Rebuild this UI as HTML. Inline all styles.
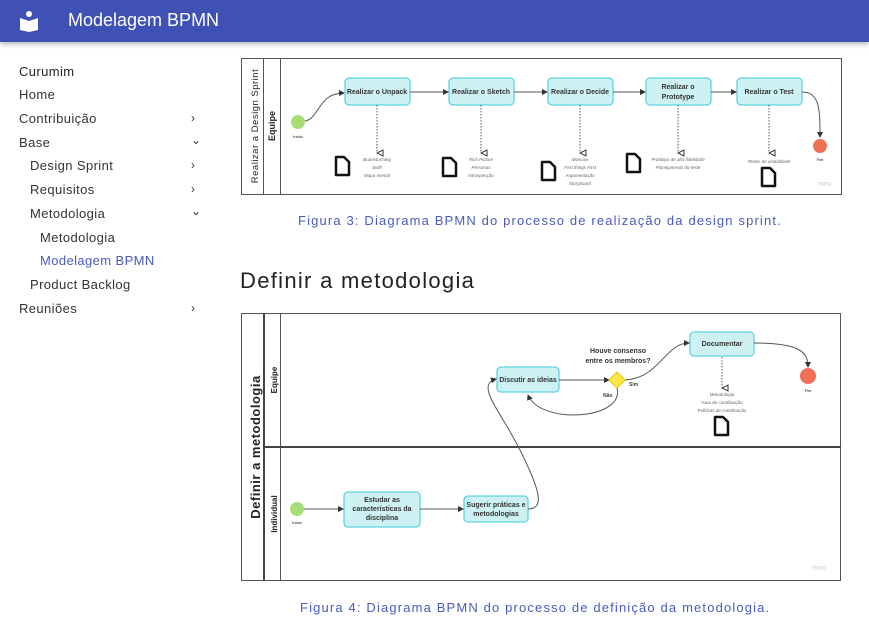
<!DOCTYPE html>
<html><head><meta charset="utf-8"><style>
*{margin:0;padding:0;box-sizing:border-box}
body{width:869px;height:625px;overflow:hidden;background:#fff;font-family:"Liberation Sans",sans-serif;position:relative}
.hdr{position:absolute;left:0;top:0;width:869px;height:42px;background:#3f51b5;box-shadow:0 2px 5px rgba(0,0,0,.3)}
.hdr span{position:absolute;left:68px;top:10px;color:#fff;font-size:18px}
.nav{position:absolute;font-size:13px;color:#333;letter-spacing:0.4px}
.chev{position:absolute;left:191px;font-size:12px;color:#333}
.cap{position:absolute;font-size:13px;color:#4a5bbd;white-space:nowrap;letter-spacing:1.15px}
svg{position:absolute;left:0;top:0}
</style></head><body>
<div class="hdr"><span>Modelagem BPMN</span>
<svg width="40" height="42" style="left:18px;top:10px"><circle cx="11" cy="4" r="3" fill="#fff"/><path d="M2 8 L11 11 L20 8 L20 20 L11 22 L2 20Z" fill="#fff"/></svg></div>
<div class="nav" style="left:19px;top:64px;color:#222">Curumim</div>
<div class="nav" style="left:19px;top:87px">Home</div>
<div class="nav" style="left:19px;top:111px">Contribuição</div><div class="chev" style="top:111px">›</div>
<div class="nav" style="left:19px;top:135px">Base</div><div class="chev" style="top:133px">⌄</div>
<div class="nav" style="left:30px;top:158px">Design Sprint</div><div class="chev" style="top:158px">›</div>
<div class="nav" style="left:30px;top:182px">Requisitos</div><div class="chev" style="top:182px">›</div>
<div class="nav" style="left:30px;top:206px">Metodologia</div><div class="chev" style="top:204px">⌄</div>
<div class="nav" style="left:40px;top:230px">Metodologia</div>
<div class="nav" style="left:40px;top:253px;color:#4a5bbd">Modelagem BPMN</div>
<div class="nav" style="left:30px;top:277px">Product Backlog</div>
<div class="nav" style="left:19px;top:301px">Reuniões</div><div class="chev" style="top:301px">›</div>
<div class="cap" style="left:298px;top:213px">Figura 3: Diagrama BPMN do processo de realização da design sprint.</div>
<div style="position:absolute;left:240px;top:268px;font-size:22px;color:#222;letter-spacing:1.3px">Definir a metodologia</div>
<div class="cap" style="left:300px;top:600px">Figura 4: Diagrama BPMN do processo de definição da metodologia.</div>
<svg width="869" height="625" font-family="Liberation Sans" >
<defs><marker id="a" markerWidth="6" markerHeight="6" refX="5" refY="3" orient="auto"><path d="M0 0L6 3L0 6Z" fill="#333"/></marker>
<marker id="o" markerWidth="8" markerHeight="8" refX="4" refY="7" orient="auto-start-reverse"><path d="M1 1L7 1L4 7Z" fill="#fff" stroke="#333"/></marker>
<g id="doc"><path d="M0 0H8L13 5V18H0Z" fill="#fff" stroke="#111" stroke-width="2.5" stroke-linejoin="round"/></g></defs>
<!-- diagram 1 -->
<rect x="241.5" y="58.5" width="600" height="136" fill="#fff" stroke="#555"/>
<line x1="263.5" y1="58" x2="263.5" y2="194" stroke="#555"/><line x1="280.5" y1="58" x2="280.5" y2="194" stroke="#555"/>
<text transform="translate(258,126) rotate(-90)" text-anchor="middle" font-size="9.5" fill="#222" letter-spacing="0.5">Realizar a Design Sprint</text>
<text transform="translate(275,126) rotate(-90)" text-anchor="middle" font-size="9" font-weight="bold" fill="#222">Equipe</text>
<circle cx="298" cy="122" r="7" fill="#a6dd74"/><text x="298" y="138" font-size="4" text-anchor="middle">Início</text>
<path d="M305 121 C320 118 318 93 344 93" fill="none" stroke="#555" marker-end="url(#a)"/>
<g fill="#cef2f4" stroke="#5fd3e0" stroke-width="1.3">
<rect x="345" y="78" width="65" height="27" rx="4"/><rect x="449" y="78" width="65" height="27" rx="4"/><rect x="548" y="78" width="65" height="27" rx="4"/><rect x="646" y="78" width="65" height="27" rx="4"/><rect x="737" y="78" width="65" height="27" rx="4"/></g>
<g font-size="7" font-weight="bold" fill="#333" text-anchor="middle">
<text x="377" y="94">Realizar o Unpack</text><text x="481" y="94">Realizar o Sketch</text><text x="580" y="94">Realizar o Decide</text><text x="678" y="89">Realizar o</text><text x="678" y="99">Prototype</text><text x="769" y="94">Realizar o Test</text></g>
<g stroke="#555" marker-end="url(#a)"><line x1="410" y1="92" x2="448" y2="92"/><line x1="514" y1="92" x2="547" y2="92"/><line x1="613" y1="92" x2="645" y2="92"/><line x1="711" y1="92" x2="736" y2="92"/></g>
<path d="M802 92 C820 92 820 110 820 137" fill="none" stroke="#555" marker-end="url(#a)"/>
<circle cx="820" cy="146" r="7" fill="#f07058"/><text x="820" y="161" font-size="4" text-anchor="middle">Fim</text>
<g stroke="#555" stroke-dasharray="1.5 1.5" marker-end="url(#o)"><line x1="377" y1="105" x2="377" y2="153"/><line x1="481" y1="105" x2="481" y2="153"/><line x1="580" y1="105" x2="580" y2="153"/><line x1="678" y1="105" x2="678" y2="153"/><line x1="769" y1="105" x2="769" y2="153"/></g>
<use href="#doc" x="336" y="157"/><use href="#doc" x="443" y="158"/><use href="#doc" x="542" y="162"/><use href="#doc" x="627" y="154"/><use href="#doc" x="762" y="168"/>
<g font-size="4.5" font-style="italic" fill="#666" text-anchor="middle">
<text x="377" y="161">Brainstorming</text><text x="377" y="169">Swift</text><text x="377" y="177">Mapa mental</text>
<text x="481" y="161">Rich Picture</text><text x="481" y="169">Personas</text><text x="481" y="177">Introspecção</text>
<text x="580" y="161">Moscow</text><text x="580" y="169">First things First</text><text x="580" y="177">Argumentação</text><text x="580" y="185">Storyboard</text>
<text x="678" y="161">Protótipo de alta fidelidade</text><text x="678" y="169">Planejamento do teste</text>
<text x="769" y="163">Testes de usabilidade</text></g>
<text x="818" y="186" font-size="7" fill="#ccc">miro</text>
<!-- diagram 2 -->
<rect x="241.5" y="313.5" width="599" height="267" fill="#fff" stroke="#555"/>
<line x1="264" y1="313" x2="264" y2="581" stroke="#444" stroke-width="2"/><line x1="280.5" y1="313" x2="280.5" y2="581" stroke="#555"/>
<line x1="264" y1="447" x2="841" y2="447" stroke="#444" stroke-width="2"/>
<text transform="translate(260,447) rotate(-90)" text-anchor="middle" font-size="13" font-weight="bold" fill="#222" letter-spacing="0.5">Definir a metodologia</text>
<text transform="translate(277,380) rotate(-90)" text-anchor="middle" font-size="8" font-weight="bold" fill="#222">Equipe</text>
<text transform="translate(277,514) rotate(-90)" text-anchor="middle" font-size="8" font-weight="bold" fill="#222">Individual</text>
<circle cx="297" cy="509" r="7" fill="#a6dd74"/><text x="297" y="524" font-size="4" text-anchor="middle">Início</text>
<g fill="#cef2f4" stroke="#5fd3e0" stroke-width="1.3">
<rect x="344" y="492" width="76" height="35" rx="4"/><rect x="464" y="496" width="64" height="26" rx="4"/><rect x="497" y="367" width="62" height="25" rx="4"/><rect x="690" y="332" width="64" height="24" rx="4"/></g>
<g font-size="7" font-weight="bold" fill="#333" text-anchor="middle">
<text x="382" y="502">Estudar as</text><text x="382" y="511">características da</text><text x="382" y="520">disciplina</text>
<text x="496" y="507">Sugerir práticas e</text><text x="496" y="516">metodologias</text>
<text x="528" y="382">Discutir as ideias</text><text x="722" y="346">Documentar</text>
<text x="618" y="353">Houve consenso</text><text x="618" y="363">entre os membros?</text></g>
<g stroke="#555" fill="none" marker-end="url(#a)">
<line x1="304" y1="509" x2="343" y2="509"/><line x1="420" y1="509" x2="463" y2="509"/>
<path d="M528 509 C545 509 540 490 520 450 C500 410 475 385 496 379"/>
<line x1="559" y1="380" x2="609" y2="380"/>
<path d="M625 380 C660 378 665 343 689 343"/>
<path d="M754 343 C800 343 808 352 808 367"/>
<path d="M617 388 C625 420 540 425 528 395"/>
</g>
<path d="M617 372 L625 380 L617 388 L609 380Z" fill="#ffe84a" stroke="#e6c800"/>
<text x="629" y="386" font-size="5" font-weight="bold" fill="#444">Sim</text><text x="603" y="397" font-size="5" font-weight="bold" fill="#444">Não</text>
<circle cx="808" cy="376" r="8" fill="#f07058"/><text x="808" y="392" font-size="4" text-anchor="middle">Fim</text>
<line x1="722" y1="357" x2="722" y2="388" stroke="#555" stroke-dasharray="1.5 1.5" marker-end="url(#o)"/>
<g font-size="4.5" fill="#666" text-anchor="middle"><text x="722" y="396">Metodologia</text><text x="722" y="404">Guia de contribuição</text><text x="722" y="412">Políticas de contribuição</text></g>
<use href="#doc" x="715" y="417"/>
<text x="812" y="570" font-size="7" fill="#ccc">miro</text>
</svg>
</body></html>
